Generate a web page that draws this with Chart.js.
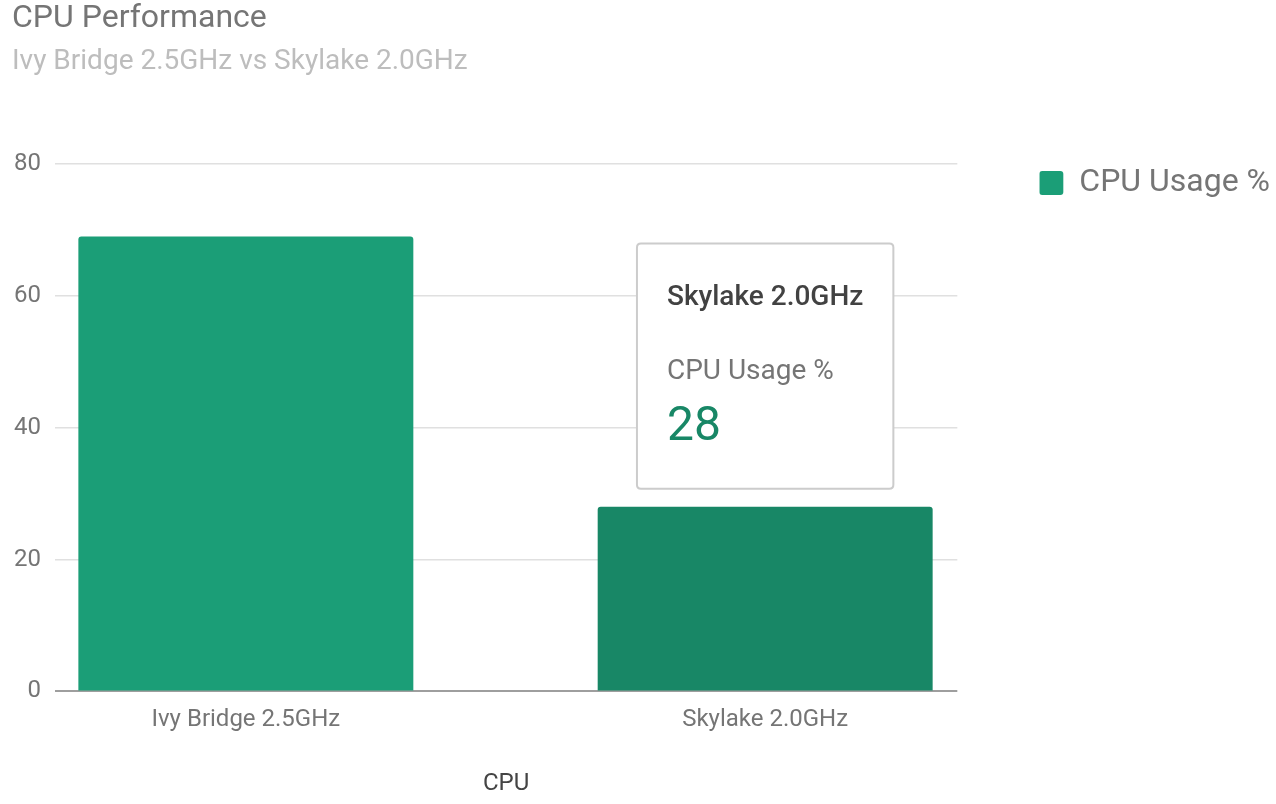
<!DOCTYPE html>
<html>
<head>
<meta charset="utf-8">
<title>CPU Performance</title>
<script src="https://cdn.jsdelivr.net/npm/chart.js@4.4.1/dist/chart.umd.min.js"></script>
<style>
  html, body { margin: 0; padding: 0; background: #fff; }
  #wrap { width: 1276px; height: 804px; }
</style>
</head>
<body>
<div id="wrap"><canvas id="cpuChart"></canvas></div>
<script>
// chart data
const cpus = ["Ivy Bridge 2.5GHz", "Skylake 2.0GHz"];
const cpuUsage = [69, 28];
const seriesName = "CPU Usage %";
const yTicks = [0, 20, 40, 60, 80];
const activeIndex = 1; // bar that has the tooltip open

Chart.defaults.font.family = "Roboto, 'Noto Sans', sans-serif";
Chart.defaults.color = "#757575";

// tooltip sits centred above the hovered bar
Chart.Tooltip.positioners.aboveBar = function (items) {
  if (!items.length) return false;
  const el = items[0].element;
  return { x: el.x, y: el.y, xAlign: "center", yAlign: "bottom" };
};

// legend starts a fixed gap to the right of the plot area
const pinLegend = {
  id: "pinLegend",
  afterLayout(chart) {
    const lg = chart.legend;
    const w = lg.width, h = lg.height;
    lg.left = chart.chartArea.right + 82;
    lg.right = lg.left + w;
    lg.top = chart.chartArea.top + 3;
    lg.bottom = lg.top + h;
  }
};

const chart = new Chart(document.getElementById("cpuChart").getContext("2d"), {
  type: "bar",
  data: {
    datasets: [{
      label: seriesName,
      data: cpus.map((c, i) => ({ x: i, y: cpuUsage[i] })),
      backgroundColor: "#1b9e77",
      hoverBackgroundColor: "#188766",
      borderRadius: 3,
      borderSkipped: "start",
      categoryPercentage: 1,
      barPercentage: 0.645
    }]
  },
  options: {
    responsive: true,
    maintainAspectRatio: false,
    animation: false,
    devicePixelRatio: 1,
    events: [],
    layout: { padding: { left: 12, right: 78, top: 0, bottom: 2 } },
    scales: {
      x: {
        type: "linear",
        offset: false,
        min: -0.3675,
        max: 1.37,
        afterBuildTicks: scale => { scale.ticks = cpus.map((c, i) => ({ value: i })); },
        ticks: {
          callback: v => cpus[v],
          font: { size: 24 },
          color: "#757575",
          padding: 6,
          autoSkip: false,
          maxRotation: 0
        },
        grid: { display: false },
        border: { display: false },
        title: { display: true, text: "CPU", font: { size: 24 }, color: "#444444", padding: { top: 29 } }
      },
      y: {
        min: 0,
        max: 80,
        afterBuildTicks: scale => { scale.ticks = yTicks.map(v => ({ value: v })); },
        afterFit: scale => { scale.width = 43; },
        ticks: { font: { size: 24 }, color: "#757575", padding: 14 },
        grid: {
          color: ctx => ctx.tick && ctx.tick.value === 0 ? "#9e9e9e" : "#e0e0e0",
          lineWidth: ctx => ctx.tick && ctx.tick.value === 0 ? 2 : 1.5,
          drawTicks: false
        },
        border: { display: false }
      }
    },
    plugins: {
      title: {
        display: true,
        text: "CPU Performance",
        align: "start",
        color: "#757575",
        font: { size: 32, weight: "normal" },
        padding: { top: 0, bottom: 7 }
      },
      subtitle: {
        display: true,
        text: "Ivy Bridge 2.5GHz vs Skylake 2.0GHz",
        align: "start",
        color: "#bdbdbd",
        font: { size: 28 },
        padding: { top: 0, bottom: 85 }
      },
      legend: {
        position: "right",
        align: "start",
        fullSize: false,
        labels: {
          boxWidth: 24,
          boxHeight: 24,
          useBorderRadius: true,
          borderRadius: 3,
          font: { size: 32 },
          color: "#757575",
          padding: 0
        }
      },
      tooltip: {
        enabled: true,
        position: "aboveBar",
        xAlign: "center",
        yAlign: "bottom",
        backgroundColor: "#ffffff",
        borderColor: "#cccccc",
        borderWidth: 2,
        cornerRadius: 4,
        caretSize: 0,
        caretPadding: 18,
        padding: { top: 38, bottom: 32, left: 30, right: 30 },
        displayColors: false,
        titleColor: "#424242",
        titleFont: { size: 28, weight: "500" },
        titleMarginBottom: 40,
        bodyColor: "#757575",
        bodyFont: { size: 28 },
        footerColor: "#188766",
        footerFont: { size: 48, weight: "normal" },
        footerMarginTop: 10.5,
        callbacks: {
          title: items => cpus[items[0].dataIndex],
          label: item => item.dataset.label,
          footer: items => String(cpuUsage[items[0].dataIndex])
        }
      }
    }
  },
  plugins: [pinLegend]
});

// open the tooltip on the Skylake bar, as in the screenshot
const active = [{ datasetIndex: 0, index: activeIndex }];
chart.setActiveElements(active);
chart.tooltip.setActiveElements(active, { x: 0, y: 0 });
chart.update();
</script>
</body>
</html>
